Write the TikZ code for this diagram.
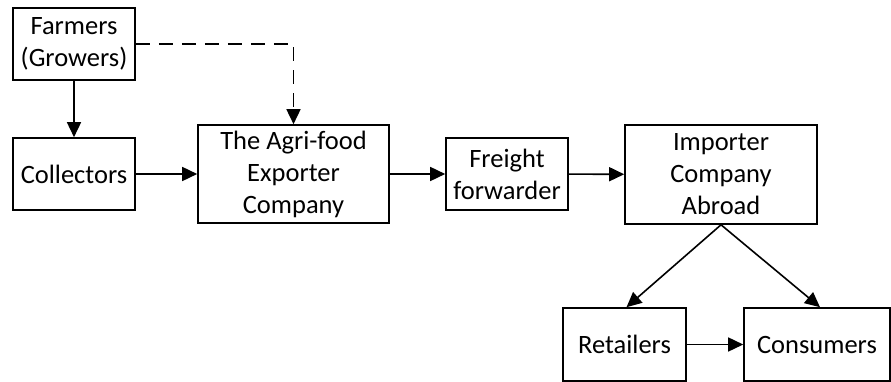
\documentclass[tikz,border=0pt]{standalone}
\usepackage{fontspec}
\setmainfont{Carlito}
\usetikzlibrary{arrows.meta}
\begin{document}
\begin{tikzpicture}[x=1pt,y=-1pt,
  box/.style={draw,line width=1.6pt,inner sep=0pt,align=center,font=\fontsize{26.5}{32}\selectfont},
  conn/.style={line width=1.6pt,-{Triangle[length=15pt,width=14pt]}}]
\useasboundingbox (0,0) rectangle (891,382);
\node[box,minimum width=122pt,minimum height=72pt] (farm) at (74,44) {Farmers\\(Growers)};
\node[box,minimum width=122pt,minimum height=72pt] (coll) at (74,174) {Collectors};
\node[box,minimum width=191pt,minimum height=98pt] (agri) at (293.5,174) {The Agri-food\\Exporter\\Company};
\node[box,minimum width=122pt,minimum height=72pt] (frei) at (507,174) {Freight\\forwarder};
\node[box,minimum width=192pt,minimum height=99pt] (imp) at (721,174.5) {Importer\\Company\\Abroad};
\node[box,minimum width=123pt,minimum height=73pt] (ret) at (624.5,344.5) {Retailers};
\node[box,minimum width=146pt,minimum height=73pt] (con) at (817,344.5) {Consumers};
\draw[conn] (farm) -- (coll);
\draw[conn,dash pattern=on 14pt off 9pt] (farm.east) -| (agri.north);
\draw[conn] (coll) -- (agri);
\draw[conn] (agri) -- (frei);
\draw[conn] (frei) -- (imp);
\draw[conn] (imp.south) -- ([xshift=2pt]ret.north);
\draw[conn] (imp.south) -- ([xshift=3pt]con.north);
\draw[conn] (ret) -- (con);
\end{tikzpicture}
\end{document}
